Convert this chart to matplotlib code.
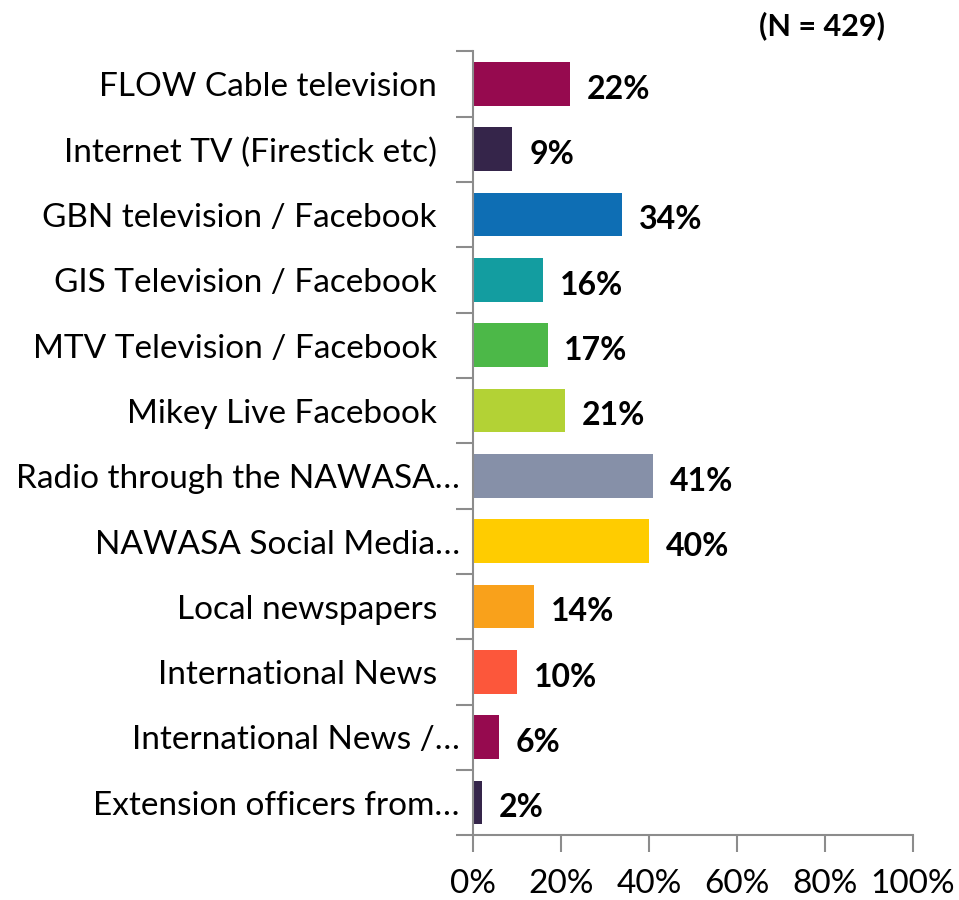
import matplotlib
matplotlib.use('Agg')
import matplotlib.pyplot as plt
import matplotlib.transforms as mtransforms
import numpy as np

## donnees du graphique

categories = ['FLOW Cable television', 'Internet TV (Firestick etc)',
              'GBN television / Facebook', 'GIS Television / Facebook',
              'MTV Television / Facebook', 'Mikey Live Facebook',
              'Radio through the NAWASA…', 'NAWASA Social Media…',
              'Local newspapers', 'International News',
              'International News /…', 'Extension officers from…']
valeurs = [22, 9, 34, 16, 17, 21, 41, 40, 14, 10, 6, 2]
couleurs = ['#960A4F', '#35254A', '#0E6EB4', '#139DA0', '#4CB848', '#B3D235',
            '#8690A8', '#FFCC00', '#F9A11B', '#FC573B', '#960A4F', '#35254A']
xticks = [0, 20, 40, 60, 80, 100]
titre_n = '(N = 429)'

plt.rcParams['font.family'] = ['Lato', 'DejaVu Sans']

fig = plt.figure(figsize=(9.59, 9.0), dpi=100)
ax = fig.add_axes([0.493, 0.072, 0.459, 0.871])

y = np.arange(len(categories))
ax.barh(y, valeurs, height=0.67, color=couleurs)

# etiquettes de valeur
for yi, v in zip(y, valeurs):
    ax.text(v + 3.8, yi + 0.08, '%d%%' % v, va='center', ha='left',
            fontsize=23, fontweight='bold', color='black')

ax.set_xlim(0, 100)
ax.set_ylim(len(categories) - 0.5, -0.5)
ax.set_xticks(xticks)
ax.set_xticklabels(['%d%%' % t for t in xticks], fontsize=24)
ax.set_yticks(y)
ax.set_yticklabels([])
ax.set_yticks(np.arange(-0.5, len(categories), 1), minor=True)

# libelles des categories (ceux tronques sont plus proches de l'axe)
trans = mtransforms.blended_transform_factory(ax.transAxes, ax.transData)
for yi, c in zip(y, categories):
    xpos = -0.0295 if c.endswith('…') else -0.0818
    ax.text(xpos, yi + 0.05, c, transform=trans, ha='right', va='center', fontsize=24)

ax.tick_params(axis='y', which='major', length=0)
ax.tick_params(axis='y', which='minor', length=12, width=1.5, color='#8C8C8C')
ax.tick_params(axis='x', which='major', length=12, width=1.5, color='#8C8C8C', pad=12)

for s in ['top', 'right']:
    ax.spines[s].set_visible(False)
for s in ['left', 'bottom']:
    ax.spines[s].set_color('#8C8C8C')
    ax.spines[s].set_linewidth(1.5)

fig.text(0.923, 0.972, titre_n, ha='right', va='center', fontsize=22, fontweight='bold')

fig.savefig('out.png', dpi=100)
